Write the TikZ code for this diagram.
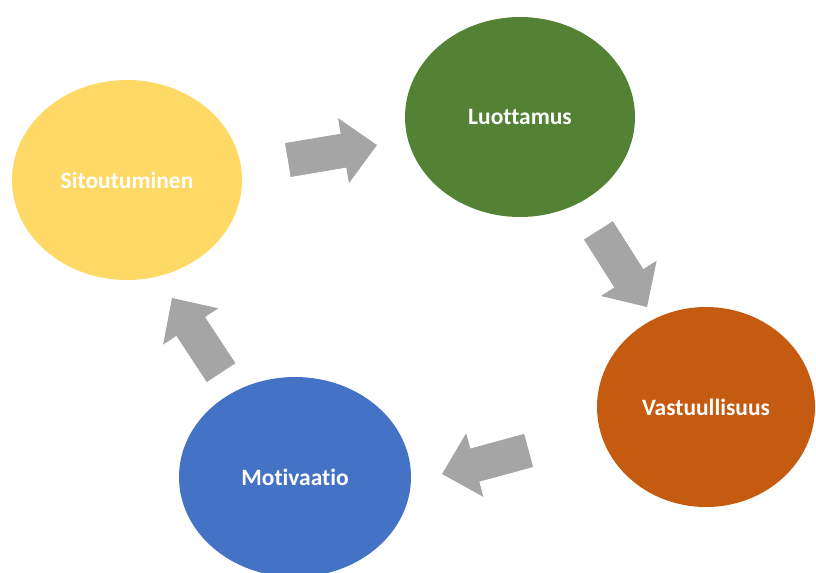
\documentclass[tikz,border=0pt]{standalone}
\usepackage{fontspec}
\setmainfont{Carlito}[Ligatures={NoCommon}]
\usetikzlibrary{arrows.meta,shapes.geometric,calc}

\definecolor{gold}{HTML}{FFD966}
\definecolor{leaf}{HTML}{548235}
\definecolor{rust}{HTML}{C55A11}
\definecolor{sky}{HTML}{4472C4}
\definecolor{arrowgray}{HTML}{A5A5A5}

\tikzset{
  bubble/.style={ellipse, minimum height=150pt, inner sep=0pt,
    text=white, font=\fontsize{17.6}{20}\selectfont\bfseries},
  shaft/.style={line width=25.5pt, arrowgray},
  flow/.style={shaft,
    -{Triangle[length=25.5pt,width=49.5pt,line width=0pt]}}
}

\begin{document}
\begin{tikzpicture}[x=0.75pt,y=-0.75pt]
  \useasboundingbox (0,0) rectangle (816,572);

  \node[bubble,fill=gold,minimum width=172.5pt] (sit) at (127,180) {Sitoutuminen};
  \node[bubble,fill=leaf,minimum width=172.5pt] (luo) at (520,117) {Luottamus};
  \node[bubble,fill=rust,minimum width=163.5pt] (vas) at (706,407) {Vastuullisuus};
  \node[bubble,fill=sky,minimum width=174pt] (mot) at (295,477) {Motivaatio};

  % tails and heads of the block arrows
  \coordinate (t1) at (288,160);
  \coordinate (h1) at (377,145);
  \coordinate (t2) at (598.5,230.5);
  \coordinate (h2) at (647,307);
  \coordinate (t3) at (528.5,450.5);
  \coordinate (h3) at (442,474);
  \coordinate (t4) at (221,372.5);
  \coordinate (h4) at (172,298);

  \foreach \i in {1,...,4} {
    \draw[flow] (t\i) -- (h\i);
    \draw[shaft] (t\i) -- ($(h\i)!20pt!(t\i)$);
  }
\end{tikzpicture}
\end{document}
